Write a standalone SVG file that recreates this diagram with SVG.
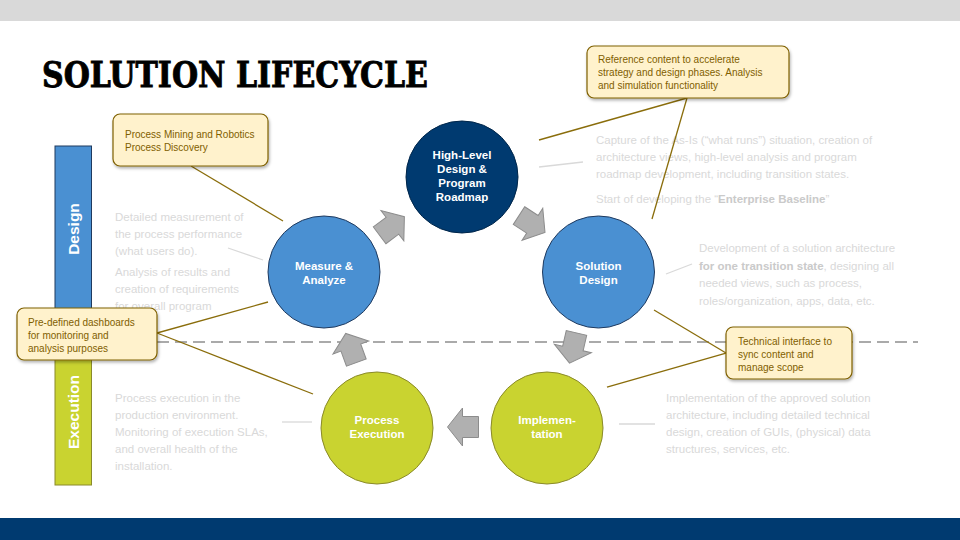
<svg xmlns="http://www.w3.org/2000/svg" xmlns:xlink="http://www.w3.org/1999/xlink" width="960" height="540" viewBox="0 0 960 540">
<style>
.desc{font-family:"Liberation Sans",Arial,sans-serif;font-size:11.5px;fill:#d9d9d9}
.desc .b{font-weight:bold;fill:#cacaca}
.ctext{font-family:"Liberation Sans",Arial,sans-serif;font-size:10px;fill:#7f6000}
.ntext{font-family:"Liberation Sans",Arial,sans-serif;font-size:11.5px;font-weight:bold;fill:#ffffff;text-anchor:middle}
.call{fill:#fff2cc;stroke:#7f6000;stroke-width:1.2}
.cline{stroke:#8a6d0b;stroke-width:1.3;fill:none}
.gline{stroke:#d9d9d9;stroke-width:1.3;fill:none}
.arrow{fill:#b0b0b0;stroke:#8c8c8c;stroke-width:1}
.blue{fill:#4a90d2;stroke:#1f3a5f;stroke-width:1}
.green{fill:#c9d330;stroke:#8a8a2a;stroke-width:1}
.bar{font-family:"Liberation Sans",Arial,sans-serif;font-size:15.5px;font-weight:bold;fill:#ffffff;text-anchor:middle}
</style>
<defs>
<filter id="sh" x="-10%" y="-10%" width="130%" height="140%">
<feDropShadow dx="1" dy="2" stdDeviation="1.5" flood-color="#000" flood-opacity="0.3"/>
</filter>
<path id="blockArrow" class="arrow" d="M-15.5,-10.5 H0.5 V-19 L15.5,0 L0.5,19 V10.5 H-15.5 Z"/>
</defs>
<rect x="0" y="0" width="960" height="540" fill="#ffffff"/>
<rect x="0" y="0" width="960" height="21" fill="#d9d9d9"/>
<rect x="0" y="518" width="960" height="22" fill="#003a70"/>
<text x="42" y="87" font-family="'DejaVu Serif',serif" font-weight="bold" font-size="35" textLength="386" lengthAdjust="spacingAndGlyphs" fill="#000" stroke="#000" stroke-width="0.9">SOLUTION LIFECYCLE</text>

<g id="phase-bars">
<rect x="55" y="146" width="36.5" height="196" fill="#4a90d2" stroke="#1f3a5f" stroke-width="1"/>
<rect x="55" y="342" width="36.5" height="143" fill="#c9d330" stroke="#8a8a2a" stroke-width="1"/>
<text class="bar" transform="translate(78.5,229) rotate(-90)">Design</text>
<text class="bar" transform="translate(78.5,412) rotate(-90)">Execution</text>
</g>

<line x1="157" y1="342" x2="918" y2="342" stroke="#aaaaaa" stroke-width="2" stroke-dasharray="12,6"/>

<g id="descriptions">
<text class="desc"><tspan x="115" y="221">Detailed measurement of</tspan><tspan x="115" y="238">the process performance</tspan><tspan x="115" y="255">(what users do).</tspan><tspan x="115" y="276">Analysis of results and</tspan><tspan x="115" y="293">creation of requirements</tspan><tspan x="115" y="310">for overall program</tspan></text>
<text class="desc"><tspan x="596" y="144">Capture of the As-Is (“what runs”) situation, creation of</tspan><tspan x="596" y="161">architecture views, high-level analysis and program</tspan><tspan x="596" y="178">roadmap development, including transition states.</tspan><tspan x="596" y="203">Start of developing the “<tspan class="b">Enterprise Baseline</tspan>”</tspan></text>
<text class="desc"><tspan x="699" y="252">Development of a solution architecture</tspan><tspan x="699" y="269.5"><tspan class="b">for one transition state</tspan>, designing all</tspan><tspan x="699" y="287">needed views, such as process,</tspan><tspan x="699" y="304.5">roles/organization, apps, data, etc.</tspan></text>
<text class="desc"><tspan x="666" y="402">Implementation of the approved solution</tspan><tspan x="666" y="419">architecture, including detailed technical</tspan><tspan x="666" y="436">design, creation of GUIs, (physical) data</tspan><tspan x="666" y="453">structures, services, etc.</tspan></text>
<text class="desc"><tspan x="115" y="402">Process execution in the</tspan><tspan x="115" y="419">production environment.</tspan><tspan x="115" y="436">Monitoring of execution SLAs,</tspan><tspan x="115" y="453">and overall health of the</tspan><tspan x="115" y="470">installation.</tspan></text>
</g>

<g id="connectors">
<line class="gline" x1="228" y1="248" x2="263" y2="260"/>
<line class="gline" x1="539" y1="167" x2="583" y2="162"/>
<line class="gline" x1="666" y1="274" x2="692" y2="264"/>
<line class="gline" x1="619" y1="424" x2="655" y2="424"/>
<line class="gline" x1="282" y1="422" x2="312" y2="422"/>
<use xlink:href="#blockArrow" transform="translate(392,226) rotate(-37)"/>
<use xlink:href="#blockArrow" transform="translate(532,224) rotate(33)"/>
<use xlink:href="#blockArrow" transform="translate(573,348) rotate(103)"/>
<use xlink:href="#blockArrow" transform="translate(463,427) rotate(180)"/>
<use xlink:href="#blockArrow" transform="translate(351,348) rotate(-110)"/>
<line class="cline" x1="191" y1="166" x2="283" y2="221"/>
<line class="cline" x1="687" y1="98" x2="539" y2="140"/>
<line class="cline" x1="687" y1="98" x2="652" y2="219"/>
<line class="cline" x1="157" y1="333" x2="268" y2="302"/>
<line class="cline" x1="157" y1="333" x2="313" y2="394"/>
<line class="cline" x1="726" y1="353" x2="654" y2="310"/>
<line class="cline" x1="726" y1="353" x2="607" y2="387"/>
</g>

<g id="high-level">
<circle cx="462" cy="177" r="56" fill="#003a70" stroke="#00264a" stroke-width="1"/>
<text class="ntext"><tspan x="462" y="159">High-Level</tspan><tspan x="462" y="173">Design &amp;</tspan><tspan x="462" y="187">Program</tspan><tspan x="462" y="201">Roadmap</tspan></text>
</g>
<g id="measure">
<circle class="blue" cx="324" cy="272" r="56"/>
<text class="ntext"><tspan x="324" y="270">Measure &amp;</tspan><tspan x="324" y="284">Analyze</tspan></text>
</g>
<g id="solution-design">
<circle class="blue" cx="598.5" cy="272" r="56"/>
<text class="ntext"><tspan x="598.5" y="270">Solution</tspan><tspan x="598.5" y="284">Design</tspan></text>
</g>
<g id="implementation">
<circle class="green" cx="547" cy="428" r="56"/>
<text class="ntext"><tspan x="547" y="424">Implemen-</tspan><tspan x="547" y="438">tation</tspan></text>
</g>
<g id="process-execution">
<circle class="green" cx="377" cy="428" r="56"/>
<text class="ntext"><tspan x="377" y="424">Process</tspan><tspan x="377" y="438">Execution</tspan></text>
</g>

<g id="callout-mining">
<rect class="call" x="113" y="114" width="155" height="52" rx="7" filter="url(#sh)"/>
<text class="ctext"><tspan x="125" y="137.5">Process Mining and Robotics</tspan><tspan x="125" y="150.5">Process Discovery</tspan></text>
</g>
<g id="callout-reference">
<rect class="call" x="587" y="46" width="202" height="52" rx="7" filter="url(#sh)"/>
<text class="ctext"><tspan x="598" y="62.5">Reference content to accelerate</tspan><tspan x="598" y="75.5">strategy and design phases. Analysis</tspan><tspan x="598" y="88.5">and simulation functionality</tspan></text>
</g>
<g id="callout-dashboards">
<rect class="call" x="17" y="308" width="140" height="52" rx="7" filter="url(#sh)"/>
<text class="ctext"><tspan x="28" y="326">Pre-defined dashboards</tspan><tspan x="28" y="339">for monitoring and</tspan><tspan x="28" y="352">analysis purposes</tspan></text>
</g>
<g id="callout-technical">
<rect class="call" x="726" y="327" width="126" height="52" rx="7" filter="url(#sh)"/>
<text class="ctext"><tspan x="738" y="344.5">Technical interface to</tspan><tspan x="738" y="357.5">sync content and</tspan><tspan x="738" y="370.5">manage scope</tspan></text>
</g>
</svg>
